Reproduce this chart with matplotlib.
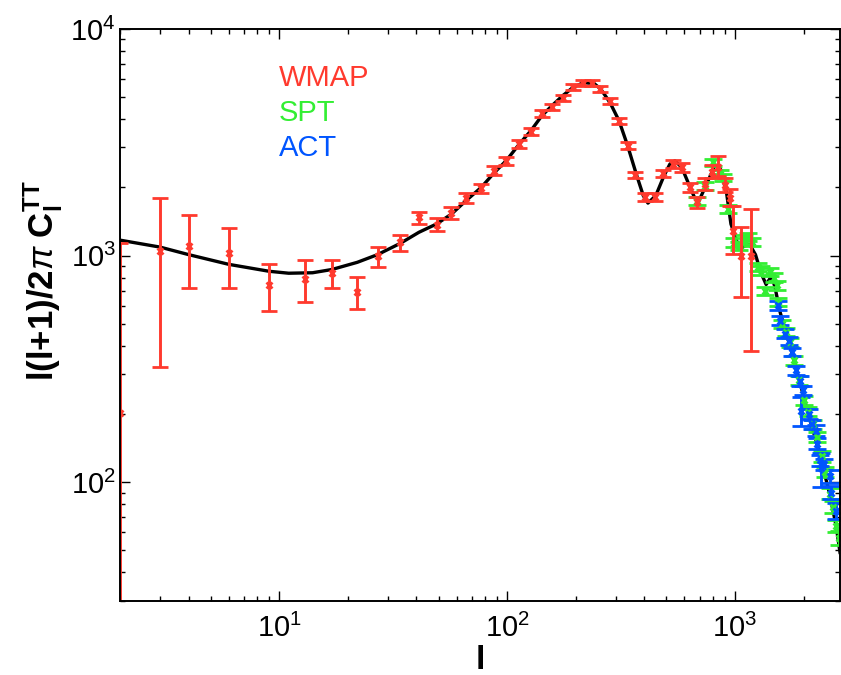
import numpy as np
import matplotlib
matplotlib.use('Agg')
import matplotlib.pyplot as plt

plt.rcParams['font.family'] = 'Liberation Sans'
plt.rcParams['mathtext.fontset'] = 'custom'
plt.rcParams['mathtext.rm'] = 'Liberation Sans'
plt.rcParams['mathtext.it'] = 'Liberation Sans:italic'
plt.rcParams['mathtext.bf'] = 'Liberation Sans:bold'

red = '#ff3a2e'
green = '#33ee33'
blue = '#0055ff'

# theory curve
curve_l = [2, 3, 4, 6, 9, 11, 14, 17, 22, 27, 34, 41, 49, 57, 66, 77, 88, 99, 113, 127,
           142, 157, 175, 194, 216, 241, 258, 283, 310, 338, 370, 396, 415, 449, 488, 518,
           545, 584, 631, 665, 690, 751, 815, 860, 920, 960, 1017, 1045, 1100, 1160, 1230,
           1300, 1370, 1450, 1500, 1580, 1800, 2060, 2350, 2600, 2780, 2890]
curve_d = [1170, 1090, 1010, 915, 853, 836, 840, 868, 934, 1010, 1133, 1267, 1379, 1525,
           1748, 2000, 2328, 2621, 3103, 3553, 4140, 4580, 5070, 5510, 5800, 5745, 5420,
           4730, 3932, 3053, 2266, 1838, 1705, 1838, 2250, 2534, 2621, 2450, 2035, 1800,
           1718, 2070, 2490, 2450, 1870, 1379, 1164, 1070, 1100, 1120, 1010, 840, 745, 815,
           720, 560, 357, 214, 134, 89, 64, 49]

# WMAP bandpowers: l, value, lower bound, upper bound
wmap_l = [2, 3, 4, 6, 9, 13, 17, 22, 27, 34, 41, 49, 57, 66, 77, 88, 99, 113, 127, 142,
          157, 175, 194, 216, 235, 255, 283, 309, 340, 363, 403, 445, 484, 536, 584, 633,
          682, 740, 790, 845, 900, 950, 980, 1062, 1172]
wmap_d = [203, 1052, 1107, 1023, 743, 790, 839, 694, 993, 1144, 1475, 1370, 1535, 1795,
          1980, 2369, 2621, 3103, 3521, 4249, 4542, 4974, 5550, 5784, 5784, 5440, 4822,
          3932, 3053, 2266, 1808, 1808, 2306, 2534, 2450, 2000, 1718, 2070, 2350, 2470,
          2050, 1800, 1288, 1000, 1000]
wmap_lo = [1, 321, 716, 721, 572, 621, 721, 584, 888, 1044, 1379, 1288, 1452, 1700,
           1880, 2260, 2510, 2980, 3400, 4110, 4400, 4830, 5400, 5620, 5620, 5280, 4680,
           3810, 2950, 2190, 1740, 1740, 2220, 2430, 2340, 1900, 1620, 1950, 2200, 2240,
           1900, 1650, 1017, 655, 379]
wmap_hi = [1141, 1787, 1511, 1328, 919, 957, 957, 803, 1088, 1237, 1551, 1466, 1633, 1882,
           2080, 2480, 2730, 3230, 3640, 4390, 4690, 5120, 5700, 5950, 5950, 5600, 4960,
           4050, 3160, 2340, 1880, 1880, 2390, 2640, 2560, 2100, 1820, 2200, 2500, 2740,
           2200, 1960, 1649, 1333, 1605]

# SPT bandpowers
spt_l = [679, 740, 800, 860, 886, 935, 990, 1040, 1090, 1140, 1190, 1256, 1300, 1350,
         1420, 1480, 1530, 1550, 1610, 1680, 1750, 1810, 1910, 2016, 2100, 2200, 2280,
         2400, 2485, 2600, 2690, 2780, 2850]
spt_d = [1747, 2035, 2576, 2300, 2215, 1605, 1140, 1107, 1180, 1205, 1150, 890, 860, 700,
         850, 800, 740, 624, 500, 460, 415, 345, 282, 230, 205, 180, 158, 130, 111, 89,
         78, 64, 57]
spt_err = [70, 80, 100, 90, 85, 65, 50, 45, 50, 50, 48, 38, 36, 30, 36, 34, 32, 27, 22,
           20, 18, 16, 13, 11, 10, 9, 8, 7, 6, 5, 5, 4, 4]

# ACT bandpowers
act_l = [1550, 1583, 1663, 1720, 1776, 1850, 1920, 1950, 1983, 2115, 2180, 2260, 2300,
         2350, 2380, 2450, 2600, 2650, 2780]
act_d = [603, 517, 452, 420, 375, 312, 280, 207, 254, 200, 180, 169, 148, 125, 115, 120,
         106, 90, 75]
act_err = [25, 22, 20, 18, 16, 14, 13, 30, 12, 10, 9, 9, 8, 7, 20, 7, 7, 6, 6]

fig = plt.figure(figsize=(8.41, 6.75), dpi=100)
ax = fig.add_axes([120 / 841, 74 / 675, 720 / 841, 572 / 675])
ax.set_xscale('log')
ax.set_yscale('log')

ax.plot(curve_l, curve_d, color='black', lw=2.4, zorder=2)

wd = np.array(wmap_d)
werr = [wd - np.array(wmap_lo), np.array(wmap_hi) - wd]
ax.errorbar(wmap_l, wmap_d, yerr=werr, fmt='x', color=red, ms=4.5, mew=2,
            elinewidth=2.1, capsize=5.5, capthick=2.1, zorder=4)
ax.errorbar(spt_l, spt_d, yerr=spt_err, fmt='x', color=green, ms=4.5, mew=2,
            elinewidth=2.1, capsize=6.5, capthick=2.1, zorder=3)
ax.errorbar(act_l, act_d, yerr=act_err, fmt='x', color=blue, ms=4.5, mew=2,
            elinewidth=2.1, capsize=6.5, capthick=2.1, zorder=3)

ax.set_xlim(2, 2890)
ax.set_ylim(29.9, 1e4)

ax.tick_params(which='both', direction='in', top=True, right=True, labelsize=21, width=1)
ax.tick_params(which='major', length=7)
ax.tick_params(which='minor', length=3.5)
ax.tick_params(axis='x', pad=9)
ax.tick_params(axis='y', pad=3)
for s in ax.spines.values():
    s.set_linewidth(1.4)
    s.set_zorder(6)

ax.set_xlabel('l', fontsize=24, fontweight='bold', labelpad=2)
ax.set_ylabel(r'l(l+1)/2$\pi$ C$_\mathbf{l}^\mathbf{TT}$', fontsize=25, fontweight='bold')
ax.yaxis.set_label_coords(-0.076, 0.56)

fig.text(279 / 841, 1 - 78 / 675, 'WMAP', color=red, fontsize=21, va='center', ha='left')
fig.text(279 / 841, 1 - 113 / 675, 'SPT', color=green, fontsize=21, va='center', ha='left')
fig.text(279 / 841, 1 - 148 / 675, 'ACT', color=blue, fontsize=21, va='center', ha='left')

fig.savefig('out.png', dpi=100)
